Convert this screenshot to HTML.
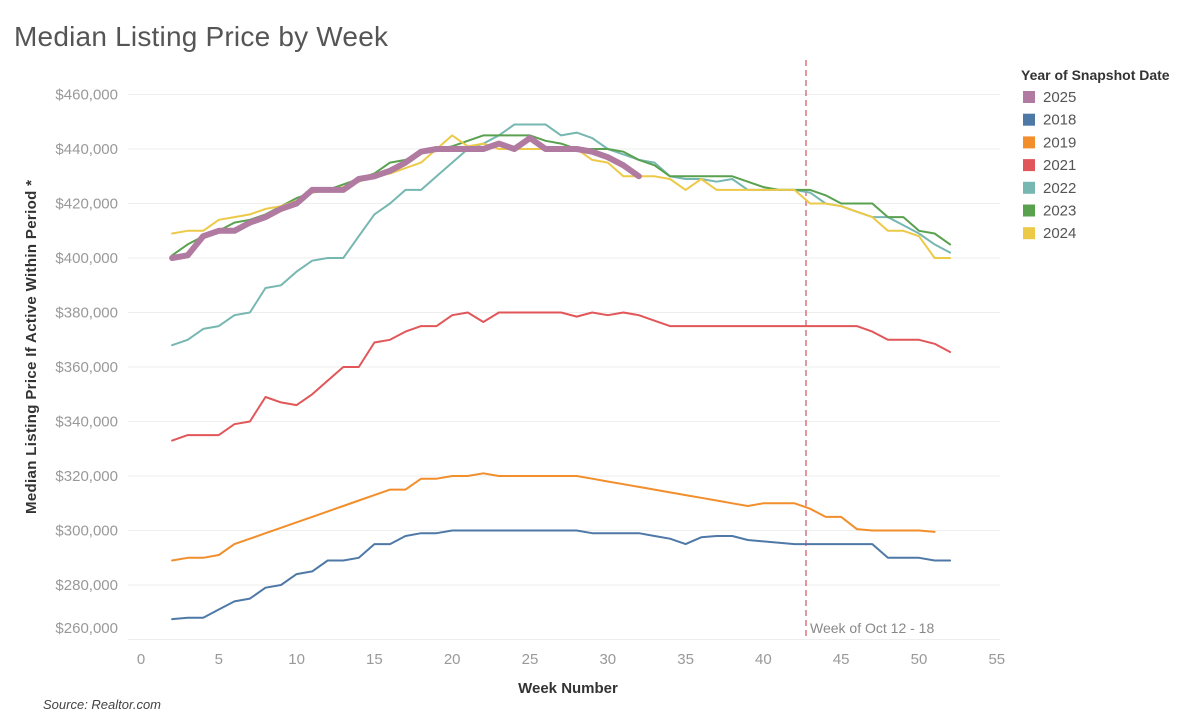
<!DOCTYPE html>
<html><head><meta charset="utf-8"><style>
body{margin:0;background:#fff;width:1200px;height:720px;overflow:hidden;font-family:"Liberation Sans",sans-serif}
</style></head><body>
<svg id="s" width="1200" height="720" xmlns="http://www.w3.org/2000/svg" font-family="Liberation Sans, sans-serif">
<text x="14" y="46" font-size="28" fill="#555" textLength="374">Median Listing Price by Week</text>
<text x="43" y="709" font-size="13" font-style="italic" fill="#444">Source: Realtor.com</text>
<text x="568" y="693" font-size="15" font-weight="bold" fill="#333" text-anchor="middle">Week Number</text>
<text transform="translate(36,347) rotate(-90)" font-size="15" font-weight="bold" fill="#333" text-anchor="middle" textLength="334">Median Listing Price If Active Within Period *</text>
<text x="1021" y="80" font-size="14" font-weight="bold" fill="#333">Year of Snapshot Date</text>
<g id="g"></g>
</svg>
<script>
var g=document.getElementById('g'),h='';
function X(w){return 141+15.56*w}
function Y(v){return 258-(v-400)*2.725}
for(var v=260;v<=460;v+=20){var y=Y(v);h+='<line x1="128" x2="1000" y1="'+y+'" y2="'+y+'" stroke="#eee"/>';
var ly=v==260?633:y+5;h+='<text x="118" y="'+ly+'" font-size="15" fill="#999" text-anchor="end">$'+v+',000</text>';}
for(var w=0;w<=55;w+=5){h+='<text x="'+X(w)+'" y="664" font-size="15" fill="#999" text-anchor="middle">'+w+'</text>';}
h+='<line x1="806" x2="806" y1="60" y2="640" stroke="#d06070" stroke-width="1.3" stroke-dasharray="6,4"/>';
h+='<text x="810" y="633" font-size="14" fill="#888">Week of Oct 12 - 18</text>';
function rng(a,b,v){var r=[];for(var i=a;i<=b;i++)r.push(v);return r}
var S=[
['#4e79a7',2,[267.5,268,268,271,274,275,279,280,284,285,289,289,290,295,295,298,299,299].concat(rng(20,28,300),[299,299,299,299,298,297,295,297.5,298,298,296.5,296,295.5],rng(42,47,295),[290,290,290,289,289]),2],
['#f28e2b',2,[289,290,290,291,295,297,299,301,303,305,307,309,311,313,315,315,319,319,320,320,321].concat(rng(23,28,320),[319,318,317,316,315,314,313,312,311,310,309,310,310,310,308,305,305,300.5,300,300,300,300,299.5]),2],
['#e15759',2,[333,335,335,335,339,340,349,347,346,350,355,360,360,369,370,373,375,375,379,380,376.5].concat(rng(23,27,380),[378.5,380,379,380,379,377],rng(34,46,375),[373,370,370,370,368.5,365.5]),2],
['#76b7b2',2,[368,370,374,375,379,380,389,390,395,399,400,400,408,416,420,425,425,430,435,440,442,445,449,449,449,445,446,444,440,438,436,435,430,429,429,428,429,425,425,425,425,424,420,419,417,415,415,412,409,405,402],2],
['#59a14f',2,[401,405,408,410,413,414,416,419,422,424,425,427,429,431,435,436,439,440,441,443,445,445,445,445,443,442,440,440,440,439,436,434,430,430,430,430,430,428,426,425,425,425,423,420,420,420,415,415,410,409,405],2],
['#edc948',2,[409,410,410,414,415,416,418,419,421,424,425,426,428,430,431,433,435,440,445,441,442,440,440,440,440,440,440,436,435,430,430,430,429,425,429,425,425,425,425,425,425,420,420,419,417,415,410,410,408,400,400],2],
['#b07aa1',2,[400,401,408,410,410,413,415,418,420,425,425,425,429,430,432,435,439,440,440,440,440,442,440,444,440,440,440,439,437,434,430],6]
];
S.forEach(function(s){var p=s[2].map(function(v,i){return X(s[1]+i).toFixed(1)+','+Y(v).toFixed(1)}).join(' ');
h+='<polyline points="'+p+'" fill="none" stroke="'+s[0]+'" stroke-width="'+s[3]+'" stroke-linejoin="round" stroke-linecap="round"/>';});
var L=[['2025','#b07aa1'],['2018','#4e79a7'],['2019','#f28e2b'],['2021','#e15759'],['2022','#76b7b2'],['2023','#59a14f'],['2024','#edc948']];
L.forEach(function(l,i){var y=97+i*22.7;h+='<rect x="1023" y="'+(y-6)+'" width="12" height="12" fill="'+l[1]+'"/><text x="1043" y="'+(y+5)+'" font-size="15" fill="#555">'+l[0]+'</text>';});
g.innerHTML=h;
</script>
</body></html>
